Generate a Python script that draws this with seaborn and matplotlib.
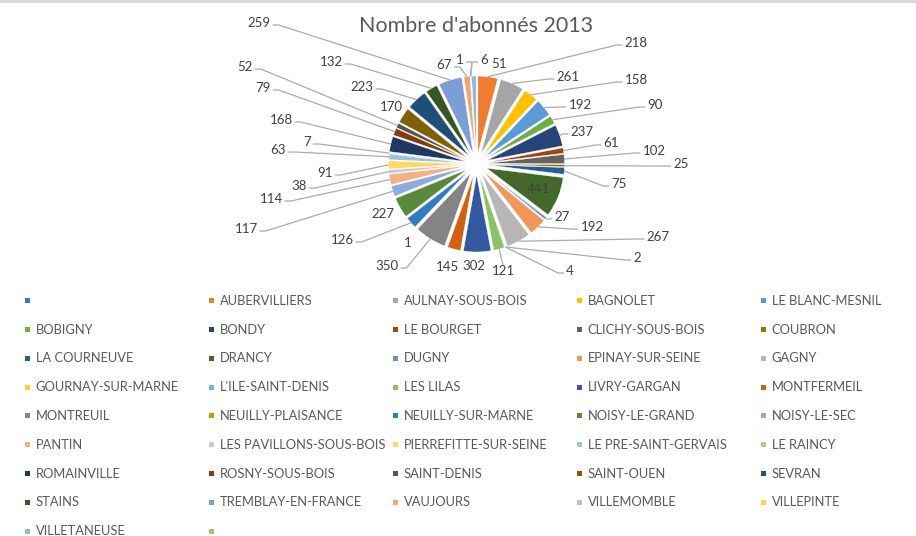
import numpy as np
import matplotlib
matplotlib.use("Agg")
import matplotlib.pyplot as plt
from matplotlib.patches import Rectangle
import seaborn as sns

# ---------------- data ----------------
title = "Nombre d'abonnés 2013"
communes = [
    "", "AUBERVILLIERS", "AULNAY-SOUS-BOIS", "BAGNOLET", "LE BLANC-MESNIL",
    "BOBIGNY", "BONDY", "LE BOURGET", "CLICHY-SOUS-BOIS", "COUBRON",
    "LA COURNEUVE", "DRANCY", "DUGNY", "EPINAY-SUR-SEINE", "GAGNY",
    "GOURNAY-SUR-MARNE", "L'ILE-SAINT-DENIS", "LES LILAS", "LIVRY-GARGAN", "MONTFERMEIL",
    "MONTREUIL", "NEUILLY-PLAISANCE", "NEUILLY-SUR-MARNE", "NOISY-LE-GRAND", "NOISY-LE-SEC",
    "PANTIN", "LES PAVILLONS-SOUS-BOIS", "PIERREFITTE-SUR-SEINE", "LE PRE-SAINT-GERVAIS", "LE RAINCY",
    "ROMAINVILLE", "ROSNY-SOUS-BOIS", "SAINT-DENIS", "SAINT-OUEN", "SEVRAN",
    "STAINS", "TREMBLAY-EN-FRANCE", "VAUJOURS", "VILLEMOMBLE", "VILLEPINTE",
    "VILLETANEUSE", "",
]
abonnes = [
    None, 218, 261, 158, 192,
    90, 237, 61, 102, 25,
    75, 441, 27, 192, 267,
    2, 4, 121, 302, 145,
    350, 1, 126, 227, 117,
    114, 38, 91, 63, 7,
    168, 79, 52, 170, 223,
    132, 259, 67, 1, 6,
    51, None,
]
palette_hex = [
    "#4472C4", "#ED7D31", "#A5A5A5", "#FFC000", "#5B9BD5", "#70AD47",
    "#264478", "#9E480E", "#636363", "#997300", "#255E91", "#43682B",
    "#698ED0", "#F1975A", "#B7B7B7", "#FFCD33", "#7CAFDD", "#8CC168",
    "#335AA1", "#D26012", "#848484", "#CC9A00", "#317DC2", "#5A8A39",
    "#8FAADC", "#F4B183", "#C9C9C9", "#FFD966", "#9DC3E6", "#A9D18E",
    "#203864", "#833C0C", "#535353", "#806000", "#1F4E79", "#385623",
    "#7C9DD6", "#F2A46F", "#C0C0C0", "#FFD34D", "#8CB9E1", "#9AC97B",
]

# ---------------- layout (image pixel coords, y down) ----------------
W, H = 916, 536
CX, CY = 476.5, 164.0
RADIUS, EXPLODE = 77, 11
label_pos = {
    "AUBERVILLIERS": (636, 43), "AULNAY-SOUS-BOIS": (568, 77), "BAGNOLET": (636, 80),
    "LE BLANC-MESNIL": (580, 105), "BOBIGNY": (655, 105), "BONDY": (582, 132),
    "LE BOURGET": (611, 143), "CLICHY-SOUS-BOIS": (654, 151), "COUBRON": (681, 164),
    "LA COURNEUVE": (619, 184), "DRANCY": (538, 189), "DUGNY": (562, 217),
    "EPINAY-SUR-SEINE": (592, 227), "GAGNY": (658, 237), "GOURNAY-SUR-MARNE": (637, 258),
    "L'ILE-SAINT-DENIS": (570, 271), "LES LILAS": (503, 271), "LIVRY-GARGAN": (474, 266),
    "MONTFERMEIL": (447, 267), "MONTREUIL": (387, 266), "NEUILLY-PLAISANCE": (408, 243),
    "NEUILLY-SUR-MARNE": (342, 240), "NOISY-LE-GRAND": (383, 214), "NOISY-LE-SEC": (246, 229),
    "PANTIN": (271, 199), "LES PAVILLONS-SOUS-BOIS": (299, 186), "PIERREFITTE-SUR-SEINE": (325, 173),
    "LE PRE-SAINT-GERVAIS": (278, 150), "LE RAINCY": (307, 142), "ROMAINVILLE": (281, 120),
    "ROSNY-SOUS-BOIS": (263, 88), "SAINT-DENIS": (245, 67), "SAINT-OUEN": (391, 107),
    "SEVRAN": (362, 87), "STAINS": (331, 62), "TREMBLAY-EN-FRANCE": (259, 23),
    "VAUJOURS": (444, 65), "VILLEMOMBLE": (460, 60), "VILLEPINTE": (484, 60),
    "VILLETANEUSE": (499, 64),
}
no_leader = {"DRANCY", "VILLETANEUSE", "SAINT-OUEN", "NOISY-LE-GRAND",
             "NEUILLY-PLAISANCE", "MONTFERMEIL", "LIVRY-GARGAN"}

LABEL_C = "#404040"
TEXT_C = "#595959"
LINE_C = "#ABABAB"

sns.set_theme(style="white")
plt.rcParams["font.family"] = ["Lato", "DejaVu Sans"]

fig = plt.figure(figsize=(W / 100, H / 100), dpi=100)
ax = fig.add_axes([0, 0, 1, 1])
colors = sns.color_palette(palette_hex)

sizes = np.nan_to_num(np.array([np.nan if v is None else v for v in abonnes], dtype=float))
wedges, _ = ax.pie(
    sizes, colors=colors, startangle=90, counterclock=False,
    radius=RADIUS, center=(CX, H - CY), explode=[EXPLODE] * len(sizes),
    wedgeprops=dict(edgecolor="white", linewidth=0.3),
)
ax.set_xlim(0, W)
ax.set_ylim(0, H)
ax.set_aspect("equal")
ax.axis("off")

# top border of the chart frame
ax.add_patch(Rectangle((0, H - 3), W, 3, color="#D9D9D9", lw=0, zorder=0))

# title
ax.text(476, H - 26, title, ha="center", va="center", fontsize=15.5, color=TEXT_C)

# data labels
texts = []
for name, val, w in zip(communes, abonnes, wedges):
    if val is None:
        continue
    lx, ly = label_pos[name]
    t = ax.text(lx, H - ly, str(val), ha="center", va="center", fontsize=9.5,
                color=LABEL_C, zorder=5)
    texts.append((name, t, w))

fig.canvas.draw()
renderer = fig.canvas.get_renderer()
inv = ax.transData.inverted()
for name, t, w in texts:
    if name in no_leader:
        continue
    bb = t.get_window_extent(renderer)
    (x0, y0), (x1, y1) = inv.transform([[bb.x0, bb.y0], [bb.x1, bb.y1]])
    thm = np.deg2rad((w.theta1 + w.theta2) / 2)
    px = w.center[0] + w.r * np.cos(thm)
    py = w.center[1] + w.r * np.sin(thm)
    cxl, cyl = (x0 + x1) / 2, (y0 + y1) / 2
    half_w = (x1 - x0) / 2
    if abs(cxl - px) > half_w + 3:
        if cxl < px:
            ax_ = x1 + 2
            stub = ax_ + 6
        else:
            ax_ = x0 - 2
            stub = ax_ - 6
        ay = cyl - 2
        ax.plot([ax_, stub, px], [ay, ay, py], color=LINE_C, lw=0.9,
                solid_capstyle="butt", zorder=4)
    else:
        ay = y0 if py < cyl else y1
        ax.plot([cxl, px], [ay, py], color=LINE_C, lw=0.9, zorder=4)

# legend (5 equal columns, like the Excel legend)
for k, (name, col) in enumerate(zip(communes, colors)):
    row, c = divmod(k, 5)
    mx = 27.5 + c * 184
    my = 300.7 + row * 28.8
    ax.add_patch(Rectangle((mx - 2.5, H - my - 2.5), 5, 5, color=col, lw=0))
    ax.text(mx + 8, H - my, name, ha="left", va="center", fontsize=9.3, color=TEXT_C)

fig.savefig("out.png", dpi=100, facecolor="white")
